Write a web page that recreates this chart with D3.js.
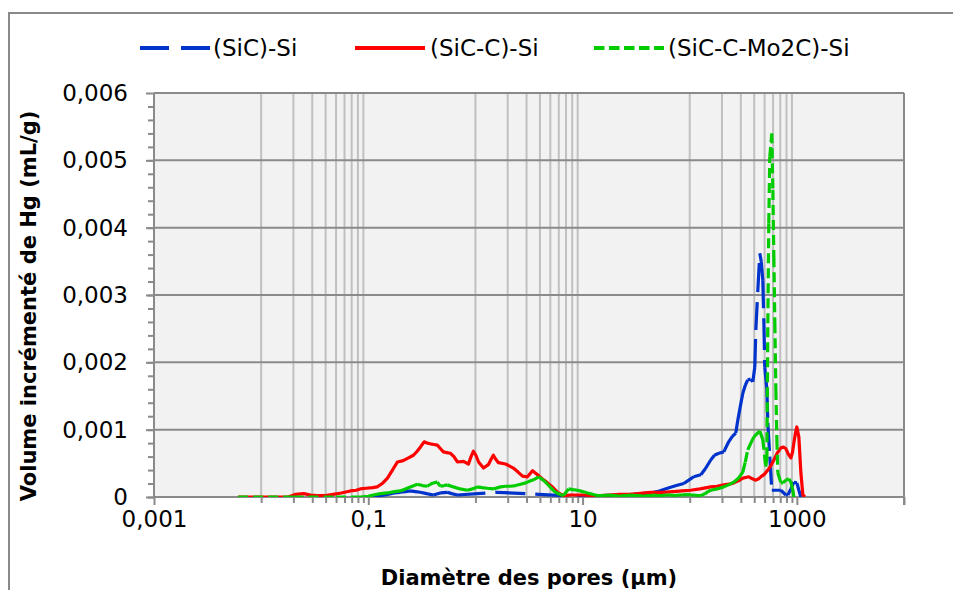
<!DOCTYPE html>
<html>
<head>
<meta charset="utf-8">
<script src="https://cdn.jsdelivr.net/npm/d3@7/dist/d3.min.js"></script>
<style>
  html, body { margin: 0; padding: 0; background: #ffffff; }
  svg { display: block; }
  text { font-family: "DejaVu Sans", sans-serif; fill: #000; }
</style>
</head>
<body>
<svg id="chart" width="953" height="590"></svg>
<script>
// ---- data: pore diameter (µm) and incremental Hg volume (mL/g) ----
const seriesNames = ["(SiC)-Si", "(SiC-C)-Si", "(SiC-C-Mo2C)-Si"];
const seriesColors = ["#0033cc", "#ff0000", "#00cc00"];

const sicDiam = [0.111, 0.13, 0.151, 0.175, 0.199, 0.222, 0.247, 0.275, 0.306, 0.35, 0.405, 0.47, 0.547, 0.6, 0.679,
  1.6, 3.9, 9.0, 14.7, 22.6, 30, 43, 52, 62, 75, 88, 98, 109, 127, 140, 157, 170, 187, 208, 231, 250, 269, 281, 297,
  313, 330, 348, 370, 388, 405, 414, 432, 451, 465, 481, 492, 502, 525, 536, 559, 584, 640, 709, 790, 824, 880, 937,
  1000, 1044, 1090];
const sicVol = [0, 0.00002, 0.00004, 0.00006, 0.00007, 0.00008, 0.00009, 0.00008, 0.00007, 0.00005, 0.00003, 0.00006,
  0.00007, 0.00005, 0.00003, 0.00007, 0.00004, 0.00001, 0.00002, 0.00003, 0.00004, 0.00006, 0.00009, 0.00013, 0.00017,
  0.0002, 0.00025, 0.0003, 0.00033, 0.00042, 0.00055, 0.00062, 0.00065, 0.00067, 0.00082, 0.0009, 0.00095, 0.00114,
  0.00135, 0.00154, 0.00166, 0.00174, 0.00175, 0.00171, 0.00193, 0.00248, 0.00306, 0.00362, 0.0035, 0.00322, 0.0026,
  0.00193, 0.00159, 0.0011, 0.0006, 0.0001, 0.0001, 0.0001, 0.00003, 0.00003, 0.00012, 0.00022, 0.00021, 0.0001, 0];

const sicCDiam = [0.0061, 0.012, 0.018, 0.021, 0.025, 0.029, 0.033, 0.04, 0.047, 0.056, 0.068, 0.077, 0.084, 0.095,
  0.11, 0.121, 0.135, 0.151, 0.168, 0.187, 0.212, 0.237, 0.264, 0.286, 0.306, 0.333, 0.355, 0.379, 0.41, 0.441, 0.47,
  0.502, 0.54, 0.583, 0.63, 0.679, 0.773, 0.861, 0.91, 0.958, 1.01, 1.07, 1.19, 1.32, 1.4, 1.47, 1.55, 1.64, 1.91,
  2.26, 2.5, 2.75, 3.06, 3.41, 3.8, 4.2, 4.71, 5.3, 5.84, 6.64, 7.73, 9, 10.2, 12, 14.7, 18, 22, 27, 33, 43, 55, 70,
  85, 102, 125, 157, 180, 208, 235, 258, 285, 313, 356, 385, 414, 440, 461, 500, 536, 575, 610, 660, 709, 750, 789,
  830, 879, 910, 937, 970, 1000, 1044, 1090, 1138, 1188];
const sicCVol = [0, 0, 0, 0.00004, 0.00005, 0.00003, 0.00002, 0.00002, 0.00004, 0.00006, 0.00009, 0.0001, 0.00012,
  0.00013, 0.00014, 0.00015, 0.0002, 0.00028, 0.0004, 0.00052, 0.00054, 0.00058, 0.00062, 0.00068, 0.00074, 0.00082,
  0.0008, 0.00079, 0.00078, 0.00077, 0.00072, 0.00067, 0.00066, 0.00065, 0.0006, 0.00052, 0.00053, 0.00049, 0.0006,
  0.00068, 0.00062, 0.00052, 0.00043, 0.00048, 0.00056, 0.00062, 0.00056, 0.00051, 0.00049, 0.00043, 0.00037, 0.00031,
  0.0003, 0.00039, 0.00033, 0.00027, 0.00021, 0.00014, 0.00007, 0.00002, 0.00003, 0.00003, 0.00003, 0.00002, 0.00002,
  0.00003, 0.00004, 0.00004, 0.00005, 0.00007, 0.00007, 0.00008, 0.00009, 0.0001, 0.00012, 0.00015, 0.00016, 0.00018,
  0.00019, 0.00021, 0.00024, 0.00028, 0.0003, 0.00027, 0.00025, 0.00027, 0.0003, 0.00034, 0.0004, 0.00047, 0.00055,
  0.00066, 0.00073, 0.00074, 0.00072, 0.00064, 0.00058, 0.00066, 0.0008, 0.00095, 0.00104, 0.00089, 0.00036, 0.00003, 0];

const sicCMoDiam = [0.0061, 0.02, 0.05, 0.084, 0.1, 0.111, 0.13, 0.151, 0.175, 0.199, 0.222, 0.247, 0.287, 0.32,
  0.356, 0.38, 0.405, 0.441, 0.471, 0.51, 0.547, 0.622, 0.72, 0.841, 0.94, 1.04, 1.15, 1.29, 1.47, 1.71, 1.9, 2.12,
  2.37, 2.64, 2.95, 3.27, 3.55, 3.88, 4.3, 4.71, 5.1, 5.59, 6.1, 6.64, 7.0, 7.4, 8.1, 8.98,
  10, 10.6, 11.1, 11.8, 12.4, 13.1, 13.8, 14.8, 16, 17.3, 19, 20.5, 22, 24, 26, 28.5, 31, 34, 37, 40, 43, 46.5, 50,
  55, 60, 66, 72, 79, 86, 94, 102, 110, 118, 127, 134, 140, 148,
  157, 180, 208, 230, 258, 285, 313, 330, 348, 372, 396, 425,
  451, 481, 513, 525, 536, 547, 559, 584, 597, 610, 623, 637, 651, 664, 709, 740, 790, 841, 880, 918, 937];
const sicCMoVol = [0, 0, 0, 0, 0.00001, 0.00003, 0.00005, 0.00006, 0.00008, 0.00009, 0.00012, 0.00015, 0.00019,
  0.00017, 0.00016, 0.00019, 0.00021, 0.00022, 0.00016, 0.00017, 0.00018, 0.00015, 0.00012, 0.0001, 0.00012, 0.00015,
  0.00014, 0.00013, 0.00012, 0.00015, 0.00016, 0.00016, 0.00017, 0.00019, 0.00021, 0.00024, 0.00026, 0.0003, 0.00025,
  0.00019, 0.00013, 0.00007, 0.00004, 0.00002, 0.00007, 0.00012, 0.00011, 0.0001,
  0.00008, 0.00007, 0.00006, 0.00005, 0.00004, 0.00003, 0.00002, 0.00002, 0.00002, 0.00003, 0.00002, 0.00002, 0.00001,
  0.00002, 0.00002, 0.00003, 0.00002, 0.00002, 0.00001, 0.00002, 0.00002, 0.00003, 0.00002, 0.00002, 0.00003, 0.00003,
  0.00002, 0.00003, 0.00003, 0.00004, 0.00003, 0.00003, 0.00002, 0.00002, 0.00004, 0.00005, 0.00008,
  0.0001, 0.00012, 0.00015, 0.00018, 0.00022, 0.00028, 0.00037, 0.00052, 0.0007, 0.0008, 0.00089, 0.00094,
  0.00098, 0.00085, 0.00045, 0.00059, 0.00258, 0.00407, 0.00505, 0.0054, 0.00456, 0.00356, 0.00258, 0.00159, 0.00085,
  0.00036, 0.00021, 0.00021, 0.00025, 0.00027, 0.00022, 0.0001, 0];

// ---- axes ----
const yTicks = [0, 0.001, 0.002, 0.003, 0.004, 0.005, 0.006];
const yMinorTicks = d3.range(0, 0.006, 0.0002).map(v => +v.toFixed(4));
const xMajorTicks = [0.001, 0.1, 10, 1000, 10000];
const xLabelTicks = [0.001, 0.1, 10, 1000];
const xLabels = ["0,001", "0,1", "10", "1000"];
const xMinorTicks = [0.01, 0.02, 0.03, 0.04, 0.05, 0.06, 0.07, 0.08, 0.09,
  1, 2, 3, 4, 5, 6, 7, 8, 9,
  100, 200, 300, 400, 500, 600, 700, 800, 900];

const xTitle = "Diamètre des pores (µm)";
const yTitle = "Volume incrémenté de Hg (mL/g)";

// ---- layout ----
const svg = d3.select("#chart");
const plot = { left: 154, right: 904, top: 93, bottom: 497 };

const x = d3.scaleLog().domain([0.001, 10000]).range([plot.left, plot.right]);
const y = d3.scaleLinear().domain([0, 0.006]).range([plot.bottom, plot.top]);

const fr = d3.formatLocale({ decimal: ",", thousands: " ", grouping: [3], currency: ["", ""] });
const yFmt = v => v === 0 ? "0" : fr.format(".3f")(v);

// chart frame
svg.append("rect")
  .attr("x", 9).attr("y", 13).attr("width", 980).attr("height", 620)
  .attr("fill", "#ffffff").attr("stroke", "#898989").attr("stroke-width", 2);

// plot background
svg.append("rect")
  .attr("x", plot.left).attr("y", plot.top)
  .attr("width", plot.right - plot.left).attr("height", plot.bottom - plot.top)
  .attr("fill", "#f2f2f2");

// vertical minor gridlines
svg.append("g").selectAll("line").data(xMinorTicks).join("line")
  .attr("x1", d => x(d)).attr("x2", d => x(d))
  .attr("y1", plot.top).attr("y2", plot.bottom)
  .attr("stroke", "#c0c0c0").attr("stroke-width", 2);

// horizontal major gridlines
svg.append("g").selectAll("line").data(yTicks.slice(1)).join("line")
  .attr("x1", plot.left).attr("x2", plot.right)
  .attr("y1", d => y(d)).attr("y2", d => y(d))
  .attr("stroke", "#8a8a8a").attr("stroke-width", 2);

// right edge of plot
svg.append("line")
  .attr("x1", plot.right).attr("x2", plot.right)
  .attr("y1", plot.top).attr("y2", plot.bottom + 8)
  .attr("stroke", "#8a8a8a").attr("stroke-width", 2);

// y axis
const yAxisG = svg.append("g").attr("transform", `translate(${plot.left},0)`);
yAxisG.call(d3.axisLeft(y).tickValues(yMinorTicks).tickSize(6).tickFormat(""));
yAxisG.call(g => g.selectAll(".tick line").attr("stroke", "#8a8a8a").attr("stroke-width", 2));
yAxisG.select(".domain").remove();
const yMajG = svg.append("g").attr("transform", `translate(${plot.left},0)`);
yMajG.call(d3.axisLeft(y).tickValues(yTicks).tickSize(8).tickPadding(18).tickFormat(yFmt));
yMajG.select(".domain").remove();
yMajG.selectAll(".tick line").attr("stroke", "#8a8a8a").attr("stroke-width", 2);
yMajG.selectAll(".tick text")
  .style("font-family", "'DejaVu Sans', sans-serif").style("font-size", "23px").attr("fill", "#000");
svg.append("line")
  .attr("x1", plot.left).attr("x2", plot.left)
  .attr("y1", plot.top).attr("y2", plot.bottom)
  .attr("stroke", "#8a8a8a").attr("stroke-width", 2);

// x axis
const xMinG = svg.append("g").attr("transform", `translate(0,${plot.bottom})`);
xMinG.call(d3.axisBottom(x).tickValues(xMinorTicks).tickSize(6).tickFormat(""));
xMinG.select(".domain").remove();
xMinG.selectAll(".tick line").attr("stroke", "#8a8a8a").attr("stroke-width", 2);
const xMajG = svg.append("g").attr("transform", `translate(0,${plot.bottom})`);
xMajG.call(d3.axisBottom(x).tickValues(xMajorTicks).tickSize(8).tickFormat(""));
xMajG.select(".domain").remove();
xMajG.selectAll(".tick line").attr("stroke", "#8a8a8a").attr("stroke-width", 2);
const xLabG = svg.append("g").attr("transform", `translate(0,${plot.bottom})`);
xLabG.call(d3.axisBottom(x).tickValues(xLabelTicks).tickSize(0).tickPadding(14)
  .tickFormat((d, i) => xLabels[i]));
xLabG.select(".domain").remove();
xLabG.selectAll(".tick text")
  .style("font-family", "'DejaVu Sans', sans-serif").style("font-size", "23px").attr("fill", "#000");
svg.append("line")
  .attr("x1", plot.left).attr("x2", plot.right)
  .attr("y1", plot.bottom).attr("y2", plot.bottom)
  .attr("stroke", "#8a8a8a").attr("stroke-width", 2);

// axis titles
svg.append("text")
  .attr("x", 529).attr("y", 585).attr("text-anchor", "middle")
  .style("font-size", "21px").style("font-weight", "bold")
  .text(xTitle);
svg.append("text")
  .attr("transform", "translate(36,306) rotate(-90)").attr("text-anchor", "middle")
  .style("font-size", "21px").style("font-weight", "bold")
  .text(yTitle);

// ---- series ----
// each segment is its own subpath so the dash pattern restarts at every data point
const segLine = d3.line().x(d => x(d[0])).y(d => y(d[1]));
function segmentedPath(diam, vol) {
  const pts = diam.map((d, i) => [d, vol[i]]);
  return d3.pairs(pts).map(p => segLine(p)).join("");
}
const series = [
  { diam: sicDiam, vol: sicVol, dash: "28,10" },
  { diam: sicCDiam, vol: sicCVol, dash: null },
  { diam: sicCMoDiam, vol: sicCMoVol, dash: "10,5" }
];
svg.append("clipPath").attr("id", "plotClip").append("rect")
  .attr("x", plot.left).attr("y", plot.top - 5)
  .attr("width", plot.right - plot.left).attr("height", plot.bottom - plot.top + 5);
const linesG = svg.append("g").attr("clip-path", "url(#plotClip)");
series.forEach((s, i) => {
  linesG.append("path")
    .attr("d", s.dash ? segmentedPath(s.diam, s.vol) : segLine(s.diam.map((d, k) => [d, s.vol[k]])))
    .attr("fill", "none")
    .attr("stroke", seriesColors[i])
    .attr("stroke-width", 3.2)
    .attr("stroke-linejoin", "round")
    .attr("stroke-dasharray", s.dash);
});

// ---- legend ----
const legendItems = [
  { x0: 140, x1: 210, tx: 213, dash: "29,12" },
  { x0: 355, x1: 425, tx: 430, dash: null },
  { x0: 594, x1: 664, tx: 668, dash: "10.5,4.5" }
];
const legG = svg.append("g");
legendItems.forEach((it, i) => {
  legG.append("line")
    .attr("x1", it.x0).attr("x2", it.x1).attr("y1", 48).attr("y2", 48)
    .attr("stroke", seriesColors[i]).attr("stroke-width", 4)
    .attr("stroke-dasharray", it.dash);
  legG.append("text")
    .attr("x", it.tx).attr("y", 56)
    .style("font-size", "23px")
    .text(seriesNames[i]);
});
</script>
</body>
</html>
